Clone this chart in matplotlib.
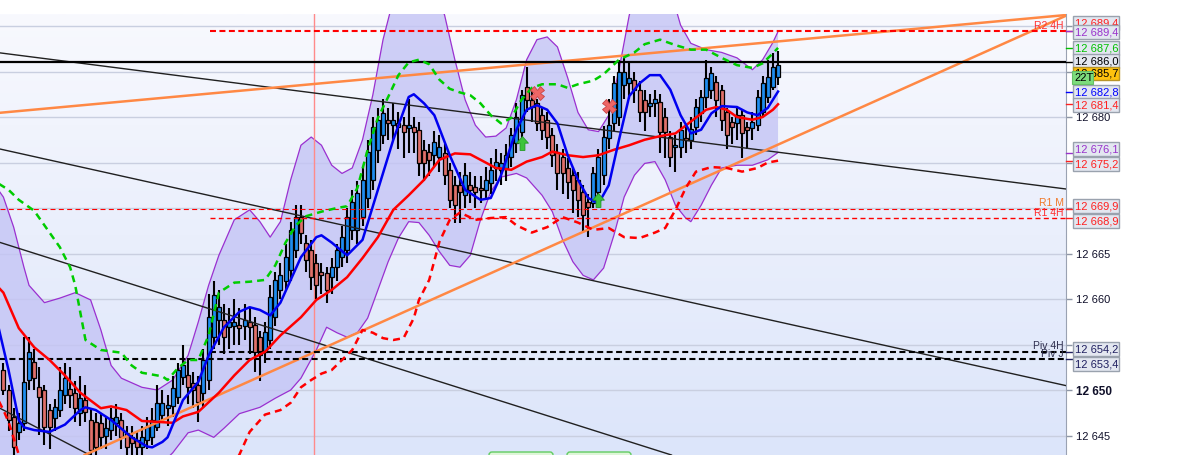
import numpy as np
import matplotlib.pyplot as plt
from matplotlib.colors import LinearSegmentedColormap
from matplotlib.patches import Rectangle, FancyBboxPatch
from matplotlib.path import Path

plt.rcParams['font.family'] = ['Liberation Sans', 'DejaVu Sans']

# ---- candles ----
opens = [12652.2, 12650.0, 12647.0, 12645.4, 12646.4, 12651.1, 12653.1, 12650.3, 12650.0, 12647.8,
         12646.9, 12647.8, 12649.5, 12650.1, 12649.7, 12647.5, 12648.9, 12646.7, 12646.5, 12646.4,
         12645.0, 12645.6, 12646.4, 12646.7, 12645.3, 12644.8, 12644.5, 12643.7, 12644.5, 12644.8,
         12645.9, 12647.3, 12648.0, 12648.2, 12649.2, 12651.4, 12651.7, 12650.8, 12650.6, 12649.7,
         12651.1, 12655.8, 12657.7, 12657.7, 12656.9, 12657.0, 12657.1, 12657.0, 12657.5, 12657.1,
         12655.8, 12654.2, 12655.5, 12658.0, 12661.0, 12662.0, 12663.2, 12665.4, 12669.0, 12666.2,
         12665.4, 12664.0, 12663.0, 12662.9, 12662.4, 12663.5, 12664.6, 12665.4, 12667.6, 12667.6,
         12669.0, 12671.1, 12673.1, 12676.4, 12678.0, 12679.7, 12679.1, 12679.3, 12679.1, 12678.8,
         12678.9, 12678.6, 12676.4, 12676.2, 12675.8, 12675.6, 12676.0, 12674.2, 12672.5, 12672.5,
         12671.4, 12672.5, 12672.3, 12672.2, 12672.0, 12672.7, 12674.4, 12674.2, 12674.4, 12675.6,
         12677.1, 12678.4, 12683.3, 12681.9, 12681.5, 12680.2, 12679.7, 12678.0, 12676.2, 12675.6,
         12674.4, 12673.6, 12673.1, 12671.8, 12670.7, 12670.6, 12671.8, 12673.6, 12677.7, 12679.3,
         12680.0, 12683.5, 12683.7, 12684.1, 12683.0, 12681.9, 12681.2, 12681.5, 12681.6, 12680.0,
         12677.8, 12676.7, 12676.7, 12677.7, 12677.5, 12678.9, 12680.4, 12682.2, 12683.0, 12683.8,
         12683.0, 12680.5, 12679.5, 12679.3, 12680.2, 12678.9, 12678.8, 12679.1, 12680.5, 12682.2,
         12683.3, 12684.4]
closes = [12650.0, 12646.7, 12643.7, 12646.4, 12650.9, 12654.2, 12651.3, 12649.2, 12645.9, 12645.9,
          12648.1, 12650.0, 12651.3, 12649.5, 12648.0, 12649.1, 12647.6, 12643.4, 12643.7, 12644.8,
          12645.8, 12646.9, 12647.0, 12644.8, 12643.7, 12644.2, 12643.7, 12644.8, 12645.9, 12646.7,
          12648.6, 12648.6, 12648.4, 12650.2, 12652.2, 12652.8, 12650.3, 12650.0, 12648.7, 12653.3,
          12658.0, 12660.4, 12659.1, 12655.8, 12657.5, 12657.5, 12656.8, 12657.7, 12656.9, 12654.2,
          12653.8, 12656.4, 12660.2, 12662.1, 12662.6, 12664.6, 12667.6, 12669.0, 12667.3, 12664.3,
          12662.4, 12661.5, 12662.6, 12661.0, 12663.5, 12665.4, 12666.8, 12669.0, 12670.7, 12671.6,
          12673.1, 12676.2, 12678.9, 12679.7, 12680.4, 12679.3, 12679.7, 12678.9, 12678.4, 12679.1,
          12678.4, 12674.9, 12674.9, 12675.3, 12677.3, 12676.7, 12673.6, 12670.9, 12670.3, 12671.8,
          12673.6, 12672.0, 12671.8, 12672.0, 12673.1, 12674.2, 12675.1, 12674.9, 12675.8, 12678.0,
          12680.0, 12682.4, 12681.9, 12681.1, 12679.3, 12678.6, 12677.8, 12675.8, 12673.8, 12673.8,
          12672.9, 12672.0, 12670.9, 12669.2, 12670.1, 12673.8, 12675.6, 12677.8, 12679.1, 12683.7,
          12684.9, 12684.9, 12684.3, 12683.0, 12680.5, 12680.5, 12681.5, 12682.0, 12678.4, 12678.4,
          12675.6, 12676.9, 12678.6, 12677.5, 12678.7, 12681.1, 12682.2, 12684.3, 12684.8, 12681.9,
          12679.7, 12678.0, 12678.9, 12680.2, 12678.2, 12678.6, 12679.5, 12682.2, 12683.7, 12684.4,
          12685.5, 12685.7]
highs = [12653.0, 12650.5, 12648.0, 12647.5, 12655.8, 12655.8, 12654.5, 12652.5, 12650.5, 12648.5,
         12649.0, 12652.5, 12653.0, 12652.5, 12651.0, 12651.5, 12650.5, 12648.0, 12647.5, 12647.5,
         12647.0, 12648.0, 12648.5, 12647.5, 12646.0, 12646.0, 12645.5, 12646.0, 12647.0, 12648.0,
         12650.5, 12650.0, 12649.5, 12651.5, 12653.0, 12655.0, 12653.5, 12652.0, 12651.5, 12654.5,
         12660.5, 12662.0, 12661.0, 12659.5, 12659.0, 12660.0, 12659.0, 12659.5, 12659.0, 12658.0,
         12656.5, 12657.5, 12661.5, 12663.0, 12664.0, 12666.0, 12668.5, 12670.3, 12670.3, 12667.0,
         12666.5, 12665.0, 12664.0, 12663.5, 12664.5, 12666.0, 12668.0, 12670.0, 12672.0, 12673.0,
         12674.5, 12677.5, 12680.0, 12681.0, 12682.0, 12681.0, 12681.5, 12680.5, 12680.0, 12682.0,
         12680.0, 12679.5, 12677.5, 12677.0, 12678.5, 12678.0, 12677.0, 12675.0, 12673.5, 12674.0,
         12675.0, 12674.0, 12673.5, 12673.5, 12674.5, 12675.5, 12676.5, 12676.0, 12677.0, 12678.8,
         12681.5, 12683.0, 12685.5, 12683.0, 12682.0, 12681.0, 12680.5, 12678.8, 12677.0, 12676.5,
         12675.5, 12674.5, 12674.0, 12672.5, 12671.5, 12674.5, 12676.5, 12679.0, 12682.0, 12684.5,
         12686.3, 12686.5, 12686.0, 12685.0, 12684.0, 12683.0, 12682.5, 12683.0, 12682.5, 12681.0,
         12678.5, 12678.0, 12679.5, 12679.0, 12680.0, 12682.0, 12683.0, 12686.3, 12685.5, 12684.5,
         12683.5, 12681.0, 12680.0, 12681.0, 12680.8, 12679.5, 12680.5, 12683.0, 12684.5, 12686.3,
         12687.0, 12687.2]
lows = [12649.5, 12645.5, 12642.5, 12644.5, 12645.5, 12650.0, 12650.0, 12645.1, 12644.0, 12643.5,
        12645.5, 12647.0, 12648.5, 12648.0, 12646.5, 12646.0, 12646.5, 12642.5, 12642.5, 12643.5,
        12643.5, 12644.5, 12645.0, 12643.5, 12642.5, 12642.5, 12642.5, 12642.5, 12643.5, 12644.0,
        12645.5, 12646.5, 12646.0, 12647.0, 12648.5, 12650.5, 12648.5, 12648.0, 12646.5, 12648.0,
        12650.0, 12654.5, 12655.0, 12654.0, 12654.5, 12655.0, 12655.0, 12655.5, 12654.0, 12652.0,
        12651.0, 12653.0, 12654.5, 12657.0, 12660.0, 12661.0, 12662.0, 12664.5, 12666.0, 12663.0,
        12661.0, 12660.0, 12660.5, 12659.6, 12660.5, 12662.0, 12663.5, 12664.0, 12666.5, 12666.0,
        12668.0, 12670.0, 12672.0, 12675.0, 12677.0, 12677.5, 12677.5, 12676.5, 12675.5, 12676.0,
        12676.0, 12673.5, 12673.0, 12673.5, 12674.5, 12674.0, 12672.5, 12670.0, 12668.3, 12668.3,
        12670.0, 12670.5, 12670.0, 12670.5, 12671.0, 12671.5, 12673.0, 12672.5, 12673.0, 12674.5,
        12676.0, 12677.0, 12680.5, 12679.5, 12678.5, 12677.5, 12676.5, 12674.5, 12672.0, 12671.5,
        12671.0, 12669.5, 12669.0, 12667.3, 12666.8, 12670.0, 12670.5, 12672.5, 12676.5, 12678.5,
        12679.0, 12682.0, 12682.0, 12681.5, 12679.5, 12678.5, 12680.0, 12680.0, 12676.0, 12675.5,
        12674.5, 12674.0, 12675.5, 12676.0, 12676.5, 12678.0, 12679.5, 12681.0, 12682.0, 12680.0,
        12678.5, 12676.5, 12677.0, 12677.5, 12675.5, 12676.5, 12677.5, 12678.5, 12680.0, 12681.5,
        12683.0, 12683.5]

# ---- indicators, sampled at candle indices ----
blue_idx = [-1, 1, 3, 4, 6, 9, 12, 15, 16, 18, 21, 25, 28, 29, 31, 32, 35, 38, 40, 43,
            46, 48, 50, 52, 54, 56, 58, 61, 62, 64, 67, 70, 73, 76, 79, 80, 82, 84, 87, 90,
            93, 95, 97, 100, 102, 104, 106, 108, 110, 112, 114, 116, 118, 120, 122, 124, 126, 128, 130, 132,
            134, 136, 138, 140, 143, 145, 147, 149, 151]
blue_val = [12657.0, 12652.2, 12646.7, 12645.9, 12645.6, 12645.4, 12646.2, 12647.8, 12648.1, 12647.8,
            12646.7, 12644.8, 12643.8, 12643.7, 12644.3, 12644.8, 12648.9, 12650.9, 12653.8, 12656.9,
            12658.6, 12659.1, 12658.8, 12658.2, 12659.6, 12662.1, 12664.6, 12666.8, 12667.0, 12666.2,
            12664.8, 12666.5, 12672.0, 12677.5, 12682.2, 12682.5, 12681.5, 12680.2, 12675.8, 12672.0,
            12670.9, 12671.1, 12673.6, 12678.6, 12680.8, 12681.3, 12680.8, 12679.3, 12675.8, 12673.1,
            12671.1, 12670.5, 12672.5, 12677.5, 12682.3, 12683.7, 12684.6, 12684.6, 12683.0, 12680.2,
            12678.2, 12678.6, 12680.4, 12681.2, 12681.1, 12680.5, 12680.2, 12681.0, 12682.8]

red_idx = [-1, 0, 3, 6, 9, 12, 15, 19, 21, 24, 27, 30, 33, 35, 38, 42, 45, 48, 51, 54,
           58, 61, 64, 67, 70, 73, 76, 79, 82, 85, 88, 91, 93, 96, 99, 102, 105, 107, 110, 113,
           116, 119, 122, 125, 128, 131, 134, 137, 139, 141, 143, 146, 148, 150, 151]
red_val = [12661.3, 12660.7, 12656.8, 12654.7, 12653.3, 12651.6, 12649.7, 12648.0, 12648.2, 12647.8,
           12646.6, 12646.5, 12646.4, 12647.1, 12647.6, 12649.7, 12651.6, 12653.3, 12654.2, 12656.0,
           12658.0, 12659.9, 12661.0, 12662.4, 12664.5, 12666.8, 12669.8, 12671.4, 12673.1, 12675.3,
           12676.0, 12675.9, 12675.3, 12674.4, 12674.2, 12675.1, 12675.6, 12676.2, 12675.8, 12675.6,
           12675.8, 12676.4, 12676.9, 12677.5, 12677.9, 12678.2, 12679.5, 12680.8, 12681.1, 12680.8,
           12680.0, 12679.7, 12680.0, 12680.8, 12681.4]

upper_idx = [-1, 0, 2, 4, 5, 8, 11, 14, 17, 19, 21, 23, 27, 30, 33, 36, 38, 40, 42, 45,
             48, 50, 52, 54, 56, 58, 60, 62, 64, 66, 68, 70, 72, 74, 76, 78, 80, 82, 84, 86,
             88, 90, 92, 94, 96, 98, 100, 102, 104, 106, 108, 110, 112, 114, 116, 118, 120, 122, 124, 127,
             130, 132, 134, 137, 140, 143, 146, 148, 150, 151]
upper_val = [12672.0, 12671.2, 12667.9, 12663.5, 12661.5, 12659.6, 12660.1, 12660.7, 12659.9, 12656.6,
             12652.7, 12651.3, 12650.3, 12650.0, 12651.1, 12653.8, 12657.5, 12661.5, 12664.8, 12668.7,
             12669.8, 12668.5, 12666.8, 12668.5, 12673.1, 12676.9, 12677.8, 12676.9, 12674.7, 12673.8,
             12674.4, 12677.5, 12682.4, 12688.5, 12692.9, 12696.0, 12697.0, 12696.0, 12694.0, 12691.2,
             12686.3, 12681.9, 12679.1, 12677.8, 12677.9, 12678.8, 12681.9, 12686.3, 12688.5, 12688.8,
             12687.7, 12684.3, 12680.5, 12678.6, 12678.4, 12680.2, 12685.2, 12691.2, 12695.0, 12697.0,
             12694.0, 12690.1, 12688.1, 12687.4, 12687.1, 12686.5, 12685.2, 12686.3, 12688.2, 12689.4]

lower_idx = [-1, 20, 28, 31, 33, 36, 38, 41, 43, 46, 50, 53, 56, 58, 61, 63, 65, 67, 69, 71,
             73, 75, 77, 79, 81, 83, 85, 87, 89, 91, 93, 95, 97, 100, 102, 105, 107, 109, 111, 113,
             115, 117, 119, 121, 123, 125, 127, 129, 131, 133, 134, 136, 138, 140, 143, 146, 149, 151]
lower_val = [12634.0, 12636.0, 12640.0, 12642.0, 12643.1, 12645.3, 12645.6, 12644.8, 12645.8, 12647.4,
             12648.1, 12649.1, 12650.0, 12651.3, 12654.4, 12656.9, 12656.3, 12655.8, 12656.3, 12657.9,
             12661.0, 12664.1, 12666.7, 12668.5, 12668.4, 12667.0, 12665.2, 12663.7, 12663.5, 12664.8,
             12668.7, 12671.8, 12673.4, 12673.8, 12673.3, 12671.4, 12669.6, 12666.5, 12664.1, 12662.6,
             12662.1, 12663.4, 12667.0, 12671.2, 12673.6, 12674.9, 12675.1, 12673.1, 12670.3, 12668.9,
             12668.5, 12670.3, 12672.5, 12674.4, 12674.7, 12674.7, 12675.3, 12676.1]

green_idx = [-1, 1, 3, 6, 8, 11, 13, 14, 16, 19, 23, 25, 27, 31, 32, 34, 36, 38, 40, 42,
             45, 48, 51, 53, 55, 57, 59, 62, 65, 67, 69, 71, 73, 75, 77, 79, 81, 83, 85, 87,
             89, 91, 93, 95, 97, 99, 101, 103, 105, 108, 110, 112, 115, 117, 120, 123, 125, 128, 131, 134,
             137, 140, 143, 146, 148, 150, 151]
green_val = [12672.7, 12672.0, 12670.9, 12669.7, 12668.1, 12665.7, 12663.5, 12661.5, 12655.5, 12654.4,
             12654.1, 12652.7, 12651.9, 12651.5, 12651.1, 12652.4, 12653.3, 12653.3, 12656.0, 12660.7,
             12661.8, 12661.9, 12662.1, 12663.7, 12666.2, 12668.1, 12669.1, 12669.6, 12670.0, 12670.2,
             12672.2, 12676.4, 12679.9, 12682.2, 12684.6, 12686.0, 12686.3, 12685.8, 12684.1, 12683.1,
             12682.7, 12682.4, 12681.5, 12680.2, 12679.3, 12679.9, 12681.9, 12683.2, 12683.6, 12683.6,
             12683.2, 12683.6, 12684.0, 12684.7, 12686.3, 12687.1, 12688.0, 12688.5, 12687.9, 12687.4,
             12687.4, 12686.5, 12685.7, 12685.4, 12685.9, 12687.0, 12687.6]

rdash_idx = [-1, 0, 1, 3, 4, 44, 46, 48, 51, 54, 56, 58, 60, 62, 64, 66, 68, 70, 72, 74,
             76, 78, 80, 81, 83, 85, 87, 89, 92, 95, 98, 100, 103, 106, 109, 112, 115, 118, 121, 124,
             127, 129, 131, 133, 135, 138, 141, 144, 147, 149, 151]
rdash_val = [12648.9, 12647.8, 12646.5, 12642.9, 12641.0, 12641.0, 12642.9, 12645.4, 12647.3, 12647.8,
             12648.6, 12650.3, 12651.1, 12651.8, 12652.2, 12653.3, 12654.4, 12656.6, 12656.3, 12655.7,
             12655.5, 12655.7, 12657.9, 12659.9, 12662.1, 12666.3, 12668.7, 12669.5, 12668.7, 12668.9,
             12669.0, 12668.1, 12667.3, 12667.9, 12669.0, 12668.4, 12667.6, 12667.8, 12666.8, 12666.7,
             12667.3, 12667.8, 12669.8, 12672.2, 12674.0, 12674.5, 12674.4, 12674.0, 12674.4, 12675.0,
             12675.2]

# signals
sell_idx = [104, 118]
sell_val = [12682.6, 12681.2]
buy_idx = [101, 116]
buy_val = [12677.1, 12670.9]

# drawn trend lines (two anchor points each: candle index, price)
orange_lines = [((0, 12680.5), (207, 12691.2)), ((16, 12642.9), (207, 12691.1))]
black_lines = [((0, 12687.0), (207, 12672.1)), ((0, 12676.4), (207, 12650.5)),
               ((0, 12666.1), (130, 12642.9)), ((0, 12647.8), (16, 12643.1))]

# pivot levels: name, value, label colour, line colour, starts at 4H session?, width
levels = [("R2 4H", 12689.4, '#ff3030', '#ff0000', True, 1.5),
          ("R1 M", 12669.9, '#f07828', '#ff0000', False, 0.8),
          ("R1 4H", 12668.9, '#ff3030', '#ff0000', True, 1.0),
          ("Piv 4H", 12654.2, '#303050', '#000000', True, 1.5),
          ("Piv J", 12653.4, '#303050', '#000000', False, 1.5)]
last_close_level = 12686.0
h4_start = 40.3
day_sep = 60.5

# right axis value boxes: text, value, text colour, nudge (px)
value_boxes = [("12 689,4", 12689.4, '#ff2020', -8.5),
               ("12 689,4", 12689.4, '#9933cc', 1.0),
               ("12 687,6", 12687.6, '#00c000', 0.5),
               ("12 686,0", 12686.0, '#000000', -1.5),
               ("12 682,8", 12682.8, '#0000ff', 0.0),
               ("12 681,4", 12681.4, '#ff2020', 0.5),
               ("12 676,1", 12676.1, '#9933cc', -4.0),
               ("12 675,2", 12675.2, '#ff2020', 3.5),
               ("12 669,9", 12669.9, '#ff2020', -3.0),
               ("12 668,9", 12668.9, '#ff2020', 2.5),
               ("12 654,2", 12654.2, '#202060', -3.0),
               ("12 653,4", 12653.4, '#202060', 4.5)]
price_now = 12685.7
ticks_count = "22T"

# price scale: grid every 5, labels only where no box covers them
tick_vals = list(range(12645, 12691, 5))
shown_ticks = [12645, 12650, 12660, 12665, 12680]

YMIN, YMAX = 12642.86, 12691.32
XMIN, XMAX = -0.663, 207.13

W, H = 1184, 455
fig = plt.figure(figsize=(W / 100, H / 100), dpi=100)
fig.patch.set_facecolor('white')
ax = fig.add_axes([0, 0, 1066 / W, 441 / H])

opens = np.array(opens); closes = np.array(closes)
highs = np.array(highs); lows = np.array(lows)
x = np.arange(len(closes))

# background gradient
bg = LinearSegmentedColormap.from_list('bg', ['#dce5fa', '#f8f9fe'])
ax.imshow(np.linspace(0, 1, 256).reshape(-1, 1), cmap=bg, aspect='auto', origin='lower',
          extent=[0, 1, 0, 1], transform=ax.transAxes, zorder=0)
for v in tick_vals:
    ax.axhline(v, color='#c9cfe0', lw=1, zorder=0.5)

# bollinger envelope
ax.fill(np.r_[upper_idx, lower_idx[::-1]], np.r_[upper_val, lower_val[::-1]],
        color='#c4c4f5', alpha=0.8, lw=0, zorder=1)
ax.plot(upper_idx, upper_val, color='#9a30d0', lw=0.9, zorder=2)
ax.plot(lower_idx, lower_val, color='#9a30d0', lw=0.9, zorder=2)

ax.axvline(day_sep, color='#ff8a8a', lw=1, zorder=2)

# candles
up = closes >= opens
ax.vlines(x, lows, highs, color='black', lw=1.5, zorder=3)
ax.bar(x, np.abs(closes - opens), 0.78, bottom=np.minimum(opens, closes),
       color=np.where(up, '#1e8cf0', '#e0706a'), edgecolor='black', lw=0.9, zorder=3.1)

# trend lines
for p1, p2 in black_lines:
    ax.axline(p1, p2, color='#202020', lw=1, zorder=4)
for p1, p2 in orange_lines:
    ax.axline(p1, p2, color='#ff8844', lw=1.8, zorder=4)

# horizontal levels
ax.plot([XMIN, XMAX], [last_close_level] * 2, color='black', lw=1.6, zorder=4)
for name, v, lc, col, is4h, lw in levels:
    x0 = h4_start if is4h else XMIN
    d = (4.3 / lw, 2.5 / lw) if lw > 1 else (3.6 / lw, 2.4 / lw)
    ax.plot([x0, XMAX], [v, v], color=col, lw=lw, dashes=d, zorder=4)

# indicators
ax.plot(green_idx, green_val, color='#00cc00', lw=1.8, dashes=(2.8, 2.0), zorder=5)
ax.plot(rdash_idx, rdash_val, color='#ff0000', lw=1.8, dashes=(2.8, 2.0), zorder=5)
ax.plot(red_idx, red_val, color='#ff0000', lw=1.8, zorder=5)
ax.plot(blue_idx, blue_val, color='#0000f0', lw=1.8, zorder=5)

# signals
arrow = Path([(0, 1), (-0.85, 0.05), (-0.35, 0.05), (-0.35, -1), (0.35, -1), (0.35, 0.05),
              (0.85, 0.05), (0, 1)], closed=True)
ax.plot(buy_idx, buy_val, ls='none', marker=arrow, ms=10, mfc='#3cc43c', mec='#239a23', mew=0.6, zorder=6)
ax.plot(sell_idx, sell_val, ls='none', marker='X', ms=10, mfc='#ee6666', mec='#c84444', mew=0.6, zorder=6)

ax.set_xlim(XMIN, XMAX)
ax.set_ylim(YMIN, YMAX)
ax.set_xticks([])
ax.set_yticks(tick_vals, [f"{v // 1000} {v % 1000:03d}" if v in shown_ticks else "" for v in tick_vals])
ax.yaxis.tick_right()
ax.tick_params(axis='y', direction='out', length=4, width=1, colors='#8e96a6',
               labelcolor='#10102a', labelsize=8, pad=3)
for t, v in zip(ax.get_yticklabels(), tick_vals):
    if v == 12650:
        t.set_fontweight('bold')
        t.set_fontsize(8.5)
for s in ['left', 'top', 'bottom']:
    ax.spines[s].set_visible(False)
ax.spines['right'].set_color('#9aa2b2')

# overlay in pixel coordinates for the price boxes
ov = fig.add_axes([0, 0, 1, 1], zorder=10)
ov.set_xlim(0, W)
ov.set_ylim(H, 0)
ov.axis('off')


def ypx(v):
    return H - ax.transData.transform((0, v))[1]


z = 2
for txt, v, col, nudge in value_boxes:
    yc = ypx(v) + nudge
    ov.plot([1066, 1072], [ypx(v)] * 2, color=col, lw=1, zorder=1)
    ov.add_patch(Rectangle((1072.5, yc - 7), 46, 14, fc='#e3e7f0', ec='#9aa2ae', lw=1, zorder=z))
    ov.text(1075, yc + 0.5, txt, color=col, fontsize=8, va='center', ha='left', zorder=z + 0.5)
    z += 1

# current price + tick counter
yc = ypx(price_now) + 8
ov.add_patch(Rectangle((1072.5, yc - 6.5), 46, 13, fc='#ffc20e', ec='#b8952a', lw=1, zorder=z))
ov.text(1075, yc + 0.5, f"{int(price_now) // 1000} {price_now % 1000:05.1f}".replace('.', ','),
        color='black', fontsize=8, va='center', ha='left', zorder=z + 0.5)
ov.add_patch(Rectangle((1072, yc - 2), 21, 13, fc='#7ddc7d', ec='#66c066', lw=0.8, zorder=z + 1))
ov.text(1074, yc + 4.5, ticks_count, color='black', fontsize=8, va='center', ha='left', zorder=z + 1.5)

# level names next to the axis
for name, v, lc, col, is4h, lw in levels:
    ov.text(1064, ypx(v) - 2.5, name, color=lc, fontsize=7.5, ha='right', va='baseline', zorder=1)

# buttons at the bottom edge
for bx in (489, 567):
    ov.add_patch(FancyBboxPatch((bx, 452), 64, 20, boxstyle='round,pad=0,rounding_size=3',
                                fc='#def6d8', ec='#62cc62', lw=1, zorder=1))

fig.savefig('out.png', dpi=100, facecolor='white')
